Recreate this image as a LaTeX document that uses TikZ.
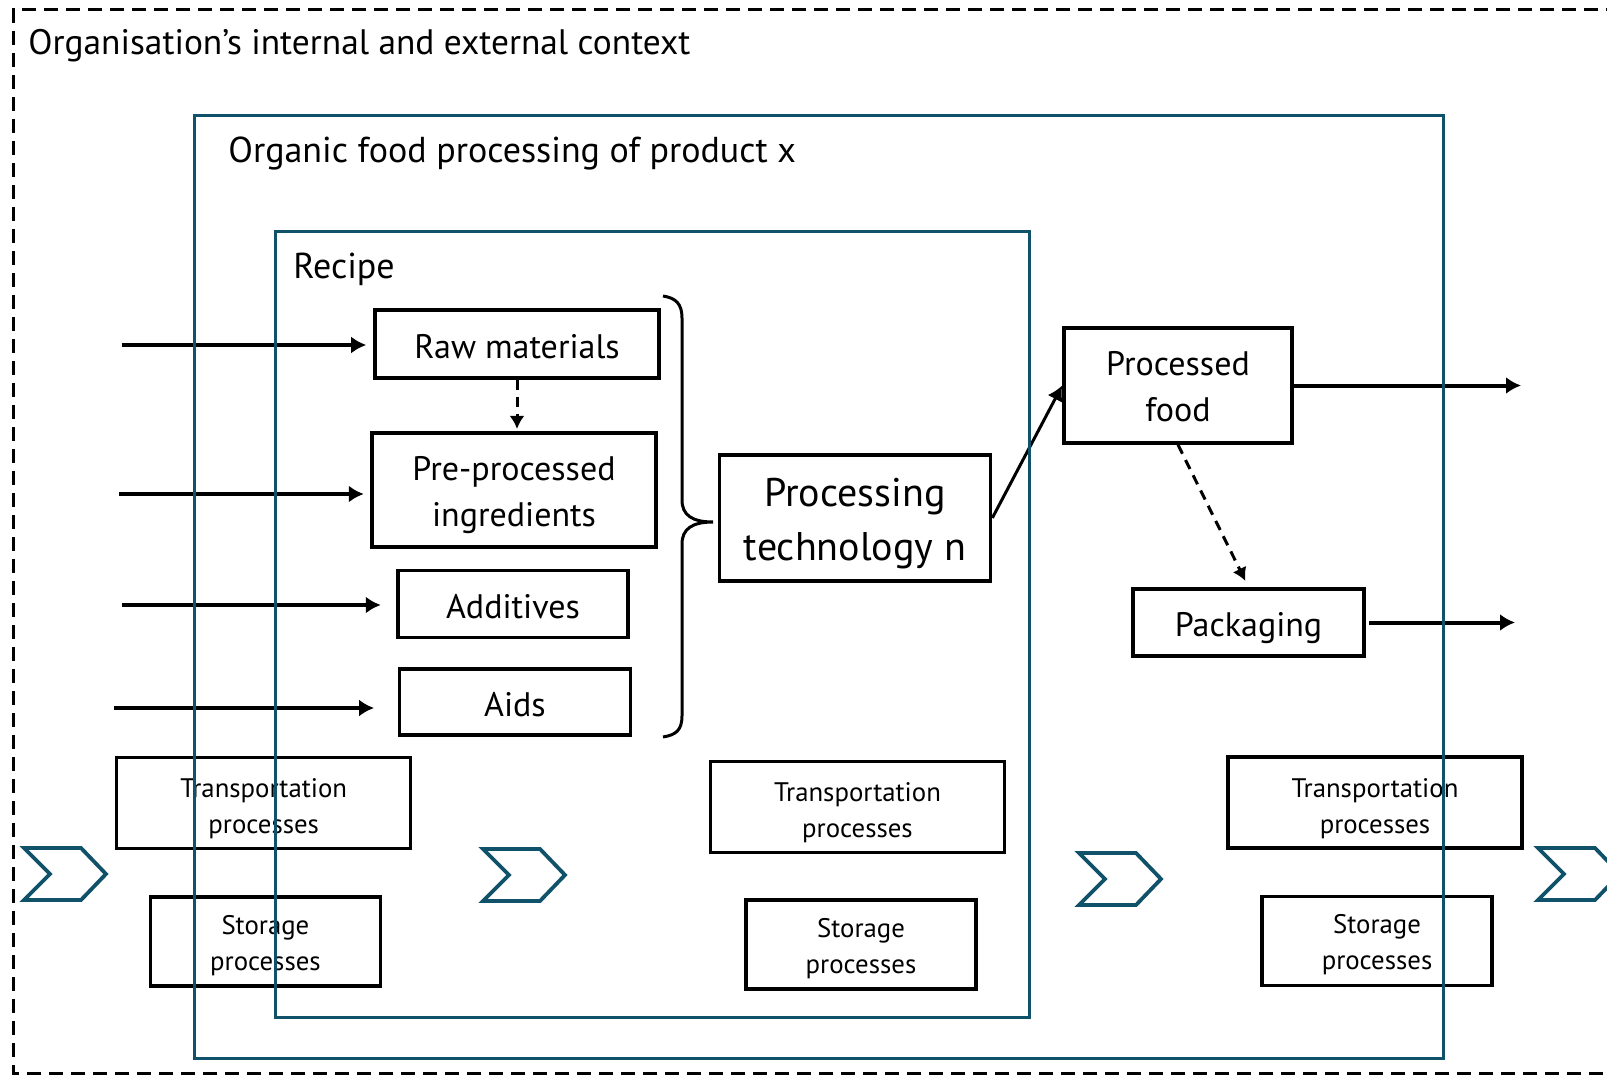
\documentclass[tikz,border=0pt]{standalone}
\usepackage{fontspec}
\setmainfont{PT Sans}
\usepackage{tikz}
\usetikzlibrary{positioning, calc, arrows.meta}
\definecolor{tealline}{RGB}{17,82,107}
\tikzstyle{Arrow} = [
%Solid black flow arrow:
line width=2pt,
-{Latex[length=7.5pt, width=8.5pt]}
]
\tikzstyle{DashArrow} = [
%Dashed flow arrow:
line width=1.5pt, dash pattern=on 5pt off 3.5pt,
-{Latex[length=6.5pt, width=7.5pt]}
]
% lower a line of text inside its box without changing the box size
\newcommand{\dropby}[2]{\raisebox{-#1}[\height][\depth]{#2}}

\begin{document}
\begin{tikzpicture}[x=0.5pt, y=-0.5pt,
					      stage/.style = {rectangle, draw, line width=1.8pt, align=center, inner sep=2pt, font=\fontsize{17}{23}\selectfont},
					      transbox/.style = {rectangle, draw, line width=1.6pt, align=center, inner sep=2pt, minimum width=147pt, minimum height=45.5pt, font=\fontsize{13.4}{18}\selectfont},
					      storebox/.style = {transbox, minimum width=115pt, minimum height=44.5pt},
					      frame/.style = {draw=tealline, line width=1.5pt},
					      chevron/.style = {draw=tealline, line width=1.9pt, line join=miter},
					      heading/.style = {anchor=base west, inner sep=0pt},
				      ]
				      \path[use as bounding box, fill=white] (0,0) rectangle (1607,1075);

				      % outer context, open on the right
				      \draw[line width=1.5pt, dash pattern=on 7pt off 4pt] (1620,9.5) -- (13.5,9.5) -- (13.5,1073.5) -- (1620,1073.5);

				      \node[heading, font=\fontsize{17.7}{21}\selectfont] (ctx) at (28,55) {Organisation’s internal and external context};
				      \node[heading, font=\fontsize{18}{21}\selectfont] (org) at (228,163) {Organic food processing of product x};
				      \node[heading, font=\fontsize{18}{21}\selectfont] (rec) at (293,279) {Recipe};

				      \node[stage, minimum width=142pt, minimum height=34pt] (raw) at (517,344) {\dropby{1.5pt}{Raw materials}};
				      \node[stage, minimum width=142pt, minimum height=57pt] (pre) at (514,489.7) {\dropby{2.5pt}{Pre-processed}\\\dropby{2.5pt}{ingredients}};
				      \node[stage, minimum width=115pt, minimum height=33.5pt] (add) at (513,604) {\dropby{1.2pt}{Additives}};
				      \node[stage, minimum width=115.5pt, minimum height=33pt] (aids) at (515,702) {\dropby{1.5pt}{Aids}};
				      \node[stage, minimum width=135.5pt, minimum height=63pt, font=\fontsize{20}{27}\selectfont] (proc) at (855,518) {\dropby{2.7pt}{Processing}\\\dropby{2.7pt}{technology n}};
				      \node[stage, minimum width=114pt, minimum height=57.5pt] (food) at (1178,385.5) {\dropby{0.8pt}{Processed}\\\dropby{0.8pt}{food}};
				      \node[stage, minimum width=115.75pt, minimum height=33.5pt] (pack) at (1248.5,622.5) {\dropby{3pt}{Packaging}};

				      \foreach \n/\tx/\ty/\sx/\sy in {1/263.7/802.8/265.4/941.5, 2/857.5/807/861/944.5, 3/1375/802.5/1377/941}{
					      \node[transbox] (trans\n) at (\tx,\ty) {\dropby{3pt}{Transportation}\\\dropby{3pt}{processes}};
					      \node[storebox] (store\n) at (\sx,\sy) {\dropby{2pt}{Storage}\\\dropby{2pt}{processes}};
				      }

				      \coordinate (inRaw) at (121.7,345);
				      \coordinate (inPre) at (119,494);
				      \coordinate (inAdd) at (121.7,605);
				      \coordinate (inAids) at (114.3,708);
				      \coordinate (outFood) at (1521,385.5);
				      \coordinate (outPack) at (1515,622.5);

				      \draw[Arrow, shorten >=3.5pt](inRaw)--(inRaw -| raw.west);
				      \draw[Arrow, shorten >=3.2pt](inPre)--(inPre -| pre.west);
				      \draw[Arrow, shorten >=7.7pt](inAdd)--(inAdd -| add.west);
				      \draw[Arrow, shorten >=11.8pt](inAids)--(inAids -| aids.west);
				      \draw[DashArrow, shorten >=1pt](raw.south)--(raw.south |- pre.north);
				      \draw[Arrow, line width=1.5pt](proc.east)--(food.west);
				      \draw[Arrow](food.east)--(outFood);
				      \draw[DashArrow, shorten >=3.5pt](food.south)--(pack.north);
				      \draw[Arrow, shorten <=1.5pt](pack.east)--(outPack);

				      % brace gathering the recipe items
				      \draw[line width=1.5pt] (663,296) .. controls (676,298) and (682,304) .. (682,318) -- (682,500)
				        .. controls (682,515) and (692,522) .. (713,522) .. controls (692,522) and (682,529) .. (682,544)
				        -- (682,716) .. controls (682,730) and (676,735) .. (663,737);

				      \foreach \cx/\cy in {24/848, 483/849, 1079/853, 1538/848}
				        \draw[chevron] (\cx,\cy) -- ++(57,0) -- ++(25,26) -- ++(-25,26) -- ++(-57,0) -- ++(26,-26) -- cycle;

				      \draw[frame] (194,116) rectangle (1443,1058);
				      \draw[frame] (275,232) rectangle (1029,1017);
			      \end{tikzpicture}
\end{document}
